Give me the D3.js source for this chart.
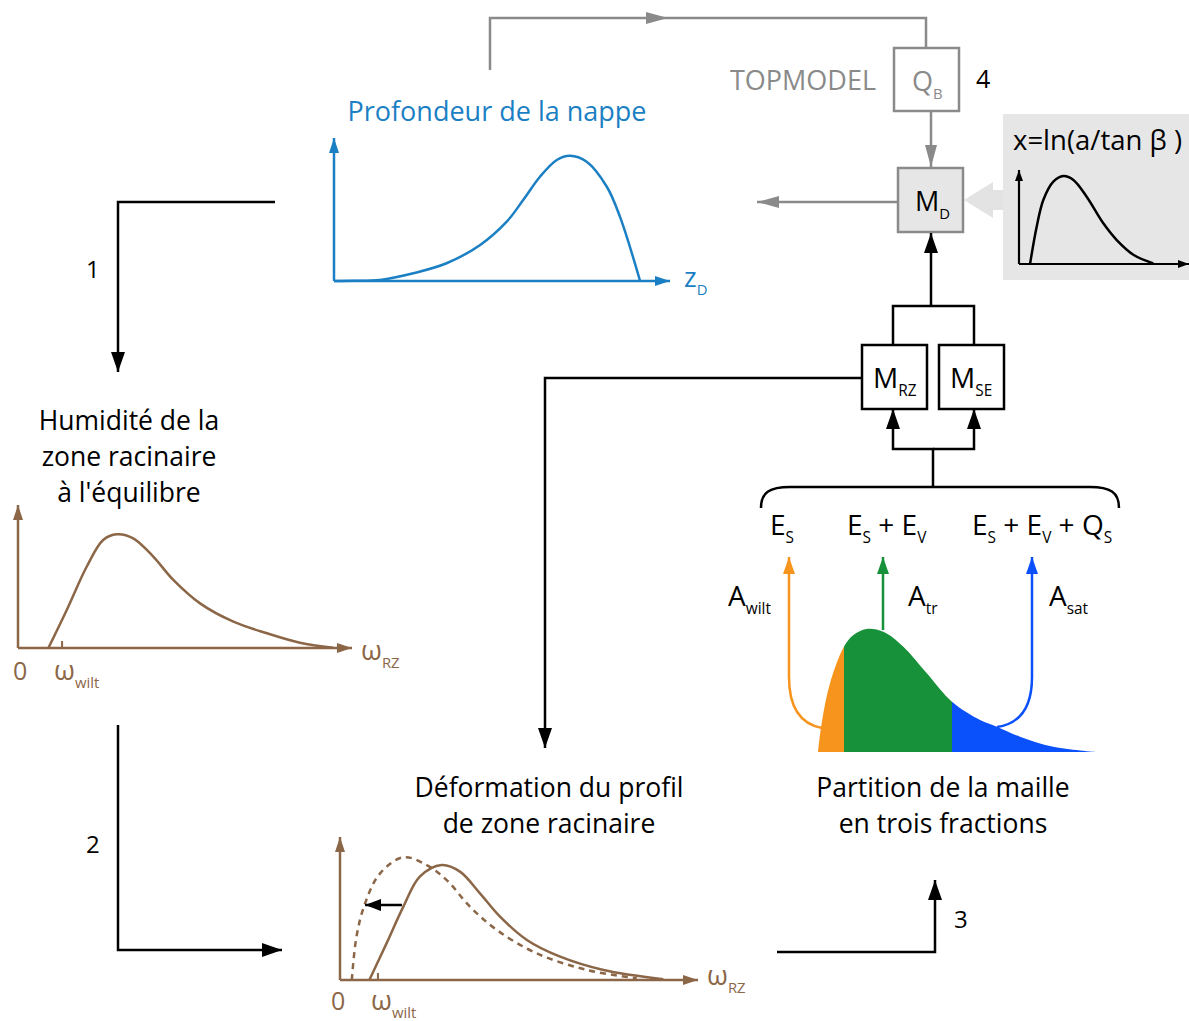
<!DOCTYPE html>
<html>
<head>
<meta charset="utf-8">
<script src="https://cdn.jsdelivr.net/npm/d3@7"></script>
<style>
  body { margin: 0; background: #fff; }
  svg text { font-family: "Open Sans", sans-serif; }
</style>
</head>
<body>
<svg id="chart" width="1189" height="1021"></svg>
<script>
// curve data, [x, y] in 0-100 units of each small panel
var nappeCurve = [[0, 0], [6, 0.1], [13.7, 0.7], [23.6, 5.4], [33.5, 12.4], [43.5, 25.2], [51.4, 41.5], [56.3, 56.6],
    [61.3, 72.9], [66.3, 84.6], [70.2, 87.6], [75.2, 83.4], [81.2, 65.9], [85.1, 45], [91.1, 0]];
var topoCurve = [[6.5, 0], [10.4, 39.7], [14.3, 68.1], [20.2, 87.6], [26.1, 93.6], [32, 89.4], [39.8, 71.6],
    [49.6, 43.3], [57.5, 25.5], [67.5, 9.6], [79, 0.7]];
var humidCurve = [[9.1, 0], [14.6, 26.6], [20.6, 57], [25.5, 75.5], [29.6, 79.5], [34.5, 76.7], [40.5, 63.9],
    [46.5, 47.6], [54.5, 31.2], [64.5, 18.4], [74.5, 10.3], [84.4, 3.7], [94.4, 0.2]];
var deformSolid = [[8.2, 0], [13, 25.6], [17.7, 51.3], [22.3, 72.3], [28.4, 80.4], [33.5, 75.8], [39.1, 60.6],
    [44.7, 44.3], [52.2, 28], [61.5, 16.3], [73.6, 7], [90.3, 0.5]];
var deformDashed = [[3.3, 0], [4.6, 30.3], [7, 53.6], [11.2, 74.6], [17.7, 85.8], [24.2, 80.4], [29.8, 69.9],
    [36.3, 51.3], [43.8, 35], [55, 18.6], [69, 7], [82.9, 1.2]];
var shiftArrow = [[17.3, 52.4], [7, 52.4]];
var partCurve = [[0, 0], [1.3, 22], [4.3, 52.8], [9.3, 81], [12.7, 90], [17.4, 94.6], [23.4, 92.5], [30.6, 81],
    [39, 60.5], [48, 38.7], [58.1, 24.6], [64.1, 19.5], [72.4, 11.8], [84.3, 4.1], [100, 0]];
var partBreaks = [0, 9.3, 48, 100];
var partNames = ['wilt', 'tr', 'sat'];
var wiltTick = 13.2;
var wiltTickDeform = 10.6;

// texts
var humidTitle = ['Humidité de la', 'zone racinaire', "à l'équilibre"];
var deformTitle = ['Déformation du profil', 'de zone racinaire'];
var partTitle = ['Partition de la maille', 'en trois fractions'];
var fluxLabels = [
    [['E', 0], ['S', 1]],
    [['E', 0], ['S', 1], [' + E', 0], ['V', 1]],
    [['E', 0], ['S', 1], [' + E', 0], ['V', 1], [' + Q', 0], ['S', 1]]
];

var BLACK = '#000', GRAY = '#8a8a8a', BROWN = '#8b6647', BLUE = '#1b7fc3';
var partColors = ['#f7941d', '#17913a', '#0a50fb'];
var TITLE_SIZE = 26.5;

var svg = d3.select('#chart');
var defs = svg.append('defs');

// arrow heads
function marker(id, color, len, wid) {
    defs.append('marker')
        .attr('id', id)
        .attr('markerUnits', 'userSpaceOnUse')
        .attr('markerWidth', len).attr('markerHeight', wid)
        .attr('refX', len).attr('refY', wid / 2)
        .attr('orient', 'auto-start-reverse')
        .append('path')
        .attr('d', 'M0,0L' + len + ',' + (wid / 2) + 'L0,' + wid + 'Z')
        .attr('fill', color);
    return 'url(#' + id + ')';
}
var mBlack = marker('mBlack', BLACK, 20, 14);
var mBlackS = marker('mBlackS', BLACK, 11, 8);
var mGray = marker('mGray', GRAY, 22, 12);
var mBrown = marker('mBrown', BROWN, 15, 10);
var mBlue = marker('mBlue', BLUE, 15, 10);
var mPart = partColors.map(function (c, i) { return marker('mPart' + i, c, 17, 12); });

function path(d, color, w, mEnd, mStart) {
    var p = svg.append('path').attr('d', d).attr('fill', 'none')
        .attr('stroke', color).attr('stroke-width', w || 2.5);
    if (mEnd) p.attr('marker-end', mEnd);
    if (mStart) p.attr('marker-start', mStart);
    return p;
}

// text with subscripts: parts = [[text, isSub], ...]
function label(x, y, parts, size, color, anchor) {
    var t = svg.append('text').attr('x', x).attr('y', y)
        .attr('font-size', size).attr('fill', color || BLACK)
        .attr('text-anchor', anchor || 'start');
    var down = false;
    parts.forEach(function (p) {
        var s = t.append('tspan').text(p[0]);
        if (p[1]) {
            s.attr('font-size', size * 0.55);
            if (!down) s.attr('dy', size * 0.3);
            down = true;
        } else if (down) {
            s.attr('dy', -size * 0.3);
            down = false;
        }
    });
    return t;
}

function panel(x0, x1, y0, y1) {
    return {
        x: d3.scaleLinear().domain([0, 100]).range([x0, x1]),
        y: d3.scaleLinear().domain([0, 100]).range([y0, y1])
    };
}
function curvePath(p, data) {
    return d3.line()
        .x(function (d) { return p.x(d[0]); })
        .y(function (d) { return p.y(d[1]); })
        .curve(d3.curveCatmullRom.alpha(0.5))(data);
}
function axes(p, color, m, w) {
    path('M' + p.x(0) + ',' + p.y(100) + 'V' + p.y(0), color, w, null, m);
    path('M' + p.x(0) + ',' + p.y(0) + 'H' + p.x(100), color, w, m);
}
function title(lines, x, y) {
    lines.forEach(function (s, i) {
        svg.append('text').attr('x', x).attr('y', y + i * 36).attr('text-anchor', 'middle')
            .attr('font-size', TITLE_SIZE).text(s);
    });
}

// ---- TOPMODEL loop (gray)
path('M490,70V18H668', GRAY, 2.5, mGray);
path('M668,18H926V48', GRAY, 2.5);
svg.append('rect').attr('x', 894).attr('y', 48).attr('width', 65).attr('height', 63)
    .attr('fill', '#fff').attr('stroke', GRAY).attr('stroke-width', 2.5);
label(912, 91, [['Q', 0], ['B', 1]], 27, GRAY);
svg.append('text').attr('x', 876).attr('y', 90).attr('text-anchor', 'end')
    .attr('font-size', 27).attr('fill', GRAY).text('TOPMODEL');
svg.append('text').attr('x', 976).attr('y', 88).attr('font-size', 25).text('4');
path('M931,111V167', GRAY, 2.5, mGray);

// ---- M_D box
svg.append('rect').attr('x', 898).attr('y', 168).attr('width', 65).attr('height', 64)
    .attr('fill', '#e6e6e6').attr('stroke', GRAY).attr('stroke-width', 2.5);
label(915, 211, [['M', 0], ['D', 1]], 27, BLACK);
path('M898,202H757', GRAY, 2.5, mGray);

// ---- topographic index panel
svg.append('rect').attr('x', 1003).attr('y', 114).attr('width', 186).attr('height', 166).attr('fill', '#e6e6e6');
svg.append('path').attr('d', 'M964,200L993,182V190H1003V210H993V218Z').attr('fill', '#e3e3e3');
svg.append('text').attr('x', 1013).attr('y', 150).attr('font-size', 27.5).text('x=ln(a/tan β )');
var pTopo = panel(1019, 1189, 264, 170);
axes(pTopo, BLACK, mBlackS, 2.2);
path(curvePath(pTopo, topoCurve), BLACK, 2.5);

// ---- water table depth panel (blue)
svg.append('text').attr('x', 497).attr('y', 121).attr('text-anchor', 'middle')
    .attr('font-size', 27).attr('fill', BLUE).text('Profondeur de la nappe');
var pNappe = panel(334, 670, 281, 138);
axes(pNappe, BLUE, mBlue, 2.5);
path(curvePath(pNappe, nappeCurve), BLUE, 2.5);
label(684, 287, [['z', 0], ['D', 1]], 27, BLUE);

// ---- arrow 1
path('M275,202H118V372', BLACK, 2.5, mBlack);
svg.append('text').attr('x', 86).attr('y', 278).attr('font-size', 24).text('1');

// ---- root zone humidity panel
title(humidTitle, 129, 430);
var pHumid = panel(18, 352, 648, 505);
axes(pHumid, BROWN, mBrown, 2.5);
path(curvePath(pHumid, humidCurve), BROWN, 2.5);
path('M' + pHumid.x(wiltTick) + ',' + pHumid.y(0) + 'v-7', BROWN, 2);
svg.append('text').attr('x', 13).attr('y', 680).attr('font-size', 25).attr('fill', BROWN).text('0');
label(54, 680, [['ω', 0], ['wilt', 1]], 27, BROWN);
label(361, 660, [['ω', 0], ['RZ', 1]], 27, BROWN);

// ---- arrow 2
path('M118,725V950H282', BLACK, 2.5, mBlack);
svg.append('text').attr('x', 86).attr('y', 853).attr('font-size', 24).text('2');

// ---- deformation panel
title(deformTitle, 549, 797);
var pDef = panel(340, 698, 980, 837);
axes(pDef, BROWN, mBrown, 2.5);
path(curvePath(pDef, deformDashed), BROWN, 2.5).attr('stroke-dasharray', '6,5');
path(curvePath(pDef, deformSolid), BROWN, 2.5);
path('M' + pDef.x(wiltTickDeform) + ',' + pDef.y(0) + 'v-7', BROWN, 2);
path('M' + pDef.x(shiftArrow[0][0]) + ',' + pDef.y(shiftArrow[0][1]) + 'H' + pDef.x(shiftArrow[1][0]),
    BLACK, 2.5, marker('mShift', BLACK, 16, 12));
svg.append('text').attr('x', 331).attr('y', 1010).attr('font-size', 25).attr('fill', BROWN).text('0');
label(371, 1010, [['ω', 0], ['wilt', 1]], 27, BROWN);
label(707, 985, [['ω', 0], ['RZ', 1]], 27, BROWN);

// ---- arrow 3
path('M777,952H935V880', BLACK, 2.5, mBlack);
svg.append('text').attr('x', 954).attr('y', 928).attr('font-size', 24).text('3');

// ---- partition panel
title(partTitle, 943, 797);
var pPart = panel(818, 1097, 752, 622);
var area = d3.area()
    .x(function (d) { return pPart.x(d[0]); })
    .y0(pPart.y(0))
    .y1(function (d) { return pPart.y(d[1]); })
    .curve(d3.curveCatmullRom.alpha(0.5));
partNames.forEach(function (n, i) {
    var x0 = pPart.x(partBreaks[i]) - (i === 0 ? 5 : 0);
    var x1 = pPart.x(partBreaks[i + 1]) + (i === 2 ? 5 : 0);
    defs.append('clipPath').attr('id', 'clip-' + n).append('rect')
        .attr('x', x0).attr('y', 500).attr('width', x1 - x0).attr('height', 300);
    svg.append('path').attr('d', area(partCurve)).attr('fill', partColors[i])
        .attr('clip-path', 'url(#clip-' + n + ')');
});
// fraction arrows
path('M789,677Q789,722 822,728', partColors[0], 2.5);
path('M789,677V557', partColors[0], 2.5, mPart[0]);
path('M883,630V557', partColors[1], 2.5, mPart[1]);
path('M1032,677Q1032,722 997,727', partColors[2], 2.5);
path('M1032,677V557', partColors[2], 2.5, mPart[2]);
label(728, 606, [['A', 0], ['wilt', 1]], 28, BLACK);
label(908, 606, [['A', 0], ['tr', 1]], 28, BLACK);
label(1049, 606, [['A', 0], ['sat', 1]], 28, BLACK);

// flux labels and brace
[770, 847, 972].forEach(function (x, i) { label(x, 535, fluxLabels[i], 28, BLACK); });
path('M761,508C761,492 770,487 790,487H1090C1110,487 1119,492 1119,508', BLACK, 2.5);
path('M933,487V449H893V409', BLACK, 2.5, mBlack);
path('M933,449H974V409', BLACK, 2.5, mBlack);

// M_RZ / M_SE boxes
[['RZ', 862], ['SE', 939]].forEach(function (b) {
    svg.append('rect').attr('x', b[1]).attr('y', 345).attr('width', 65).attr('height', 64)
        .attr('fill', '#fff').attr('stroke', BLACK).attr('stroke-width', 2.5);
    label(b[1] + 11, 388, [['M', 0], [b[0], 1]], 28, BLACK);
});
path('M893,345V306H974V345', BLACK, 2.5);
path('M931,306V233', BLACK, 2.5, mBlack);
path('M862,378H545V748', BLACK, 2.5, mBlack);
</script>
</body>
</html>
